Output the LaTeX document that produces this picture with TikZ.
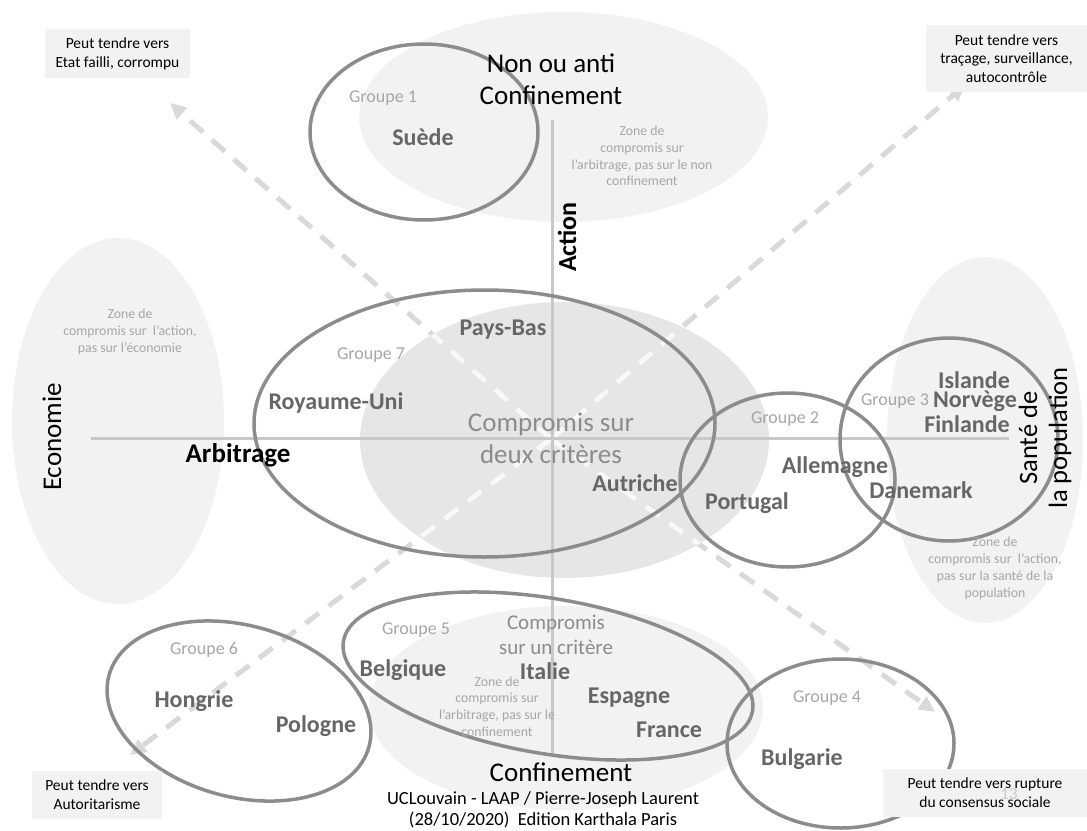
\documentclass[tikz,border=0pt]{standalone}
\usepackage{fontspec}
\setmainfont{Carlito}
\usetikzlibrary{arrows.meta}
\definecolor{zonegrey}{HTML}{F2F2F2}
\definecolor{coregrey}{HTML}{E6E6E6}
\definecolor{axisgrey}{HTML}{C8C8C8}
\definecolor{dashgrey}{HTML}{D9D9D9}
\definecolor{ringgrey}{HTML}{8C8C8C}
\definecolor{landgrey}{HTML}{666666}
\definecolor{softgrey}{HTML}{A6A6A6}
\begin{document}
\begin{tikzpicture}[x=1pt,y=-1pt,
    zone/.style={fill=zonegrey},
    axis/.style={draw=axisgrey,line width=3pt},
    tend/.style={draw=dashgrey,line width=5pt,dash pattern=on 17pt off 12pt,
      -{Triangle[length=16pt,width=15pt]}},
    ring/.style={draw=ringgrey,line width=3.5pt},
    big/.style={font=\fontsize{27}{32}\selectfont,align=center},
    land/.style={text=landgrey,inner sep=0.5pt,font=\bfseries\fontsize{24}{26}\selectfont},
    grplabel/.style={text=softgrey,inner sep=1pt,font=\fontsize{18}{20}\selectfont},
    zonetxt/.style={text=softgrey,font=\fontsize{13.8}{16.8}\selectfont,align=center},
    tendbox/.style={fill=zonegrey,font=\fontsize{15.5}{18.8}\selectfont,align=center,inner sep=0pt}]
\useasboundingbox (0,0) rectangle (1087,830);

\fill[zone] (563.5,117) ellipse [x radius=204.5pt,y radius=105pt];
\fill[zone] (118,421) ellipse [x radius=106pt,y radius=183pt];
\fill[zone] (985,440) ellipse [x radius=98pt,y radius=183pt];
\fill[zone] (566,708) ellipse [x radius=197pt,y radius=102pt];
\fill[coregrey] (564.5,440) ellipse [x radius=204.5pt,y radius=138pt];

\coordinate (o) at (551,439);
\coordinate (tipNW) at (170,103);
\coordinate (tipNE) at (965,85);
\coordinate (tipSW) at (130,755);
\coordinate (tipSE) at (935,712);
\coordinate (axW) at (91,438);
\coordinate (axE) at (1009,438);
\coordinate (axN) at (552,120);
\coordinate (axS) at (552,755);

\draw[axis] (axW) -- (axE);
\draw[axis] (axN) -- (axS);

\foreach \t in {tipNW,tipNE,tipSW,tipSE}
  \draw[tend] (o) -- (\t);
\begin{scope}
  \clip (564.5,440) ellipse [x radius=204.5pt,y radius=138pt];
  \foreach \t in {tipNW,tipNE,tipSW,tipSE}
    \draw[tend,draw=white!70!coregrey] (o) -- (\t);
  \draw[axis] (axW) -- (axE);
  \draw[axis] (axN) -- (axS);
\end{scope}

\draw[ring] (424,132) ellipse [x radius=114pt,y radius=88pt];
\draw[ring] (484.5,423.5) ellipse [x radius=230.5pt,y radius=133.5pt];
\draw[ring] (787.5,480) ellipse [x radius=107.5pt,y radius=87pt];
\draw[ring] (949,439.5) ellipse [x radius=109pt,y radius=101.5pt];
\draw[ring,rotate around={-9.7:(548,676)}] (548,676) ellipse [x radius=207.5pt,y radius=77.5pt];
\draw[ring,rotate around={-15.4:(239,711)}] (239,711) ellipse [x radius=134.8pt,y radius=85.7pt];
\draw[ring] (840.5,743.5) ellipse [x radius=113.5pt,y radius=84.5pt];

\node[big] (nonanti) at (551,79) {Non ou anti\\Confinement};
\node[big] (conf) at (561,772) {Confinement};
\node[big,rotate=90] (eco) at (52,437) {Economie};
\node[big,rotate=90,font=\fontsize{26.5}{30}\selectfont] (sante) at (1045,438) {Santé de\\la population};
\node[big,rotate=90,font=\bfseries\fontsize{26}{30}\selectfont] (action) at (567,237) {Action};
\node[big,font=\bfseries\fontsize{27}{30}\selectfont] (arbitrage) at (238,455) {Arbitrage};
\node[big,text=ringgrey] (deux) at (551,438) {Compromis sur\\deux critères};
\node[big,text=ringgrey,font=\fontsize{21}{25}\selectfont] (un) at (556,635) {Compromis\\sur un critère};

\node[zonetxt] (zoneN) at (642,156) {Zone de\\compromis sur\\l’arbitrage, pas sur le non\\confinement};
\node[zonetxt] (zoneW) at (130,332) {Zone de\\compromis sur~ l’action,\\pas sur l’économie};
\node[zonetxt] (zoneE) at (995,568.5) {Zone de\\compromis sur~ l’action,\\pas sur la santé de la\\population};
\node[zonetxt] (zoneS) at (497,706.5) {Zone de\\compromis sur\\l’arbitrage, pas sur le\\confinement};

\node[grplabel] (g1) at (383,98) {Groupe 1};
\node[grplabel] (g2) at (785,419) {Groupe 2};
\node[grplabel] (g3) at (895,401) {Groupe 3};
\node[grplabel] (g4) at (827,698) {Groupe 4};
\node[grplabel] (g5) at (416,630) {Groupe 5};
\node[grplabel] (g6) at (204,650) {Groupe 6};
\node[grplabel] (g7) at (371,355) {Groupe 7};

\node[land] (suede) at (423,137) {Suède};
\node[land] (paysbas) at (503,330) {Pays-Bas};
\node[land] (ru) at (336,403) {Royaume-Uni};
\node[land] (autriche) at (635,483) {Autriche};
\node[land] (portugal) at (747,503) {Portugal};
\node[land] (allemagne) at (835,467) {Allemagne};
\node[land] (danemark) at (921,490) {Danemark};
\node[land] (islande) at (974,380) {Islande};
\node[land] (norvege) at (975,401) {Norvège};
\node[land] (finlande) at (967,424) {Finlande};
\node[land] (belgique) at (403,670) {Belgique};
\node[land] (italie) at (545,671) {Italie};
\node[land] (espagne) at (629,698) {Espagne};
\node[land] (france) at (669,730) {France};
\node[land] (hongrie) at (194,701) {Hongrie};
\node[land] (pologne) at (316,726) {Pologne};
\node[land] (bulgarie) at (802,759) {Bulgarie};

\node[tendbox,minimum width=145pt,minimum height=49pt] (boxNW) at (117.5,53.5) {Peut tendre vers\\Etat failli, corrompu};
\node[tendbox,minimum width=161pt,minimum height=67pt] (boxNE) at (1006.5,58.5) {Peut tendre vers\\traçage, surveillance,\\autocontrôle};
\node[tendbox,minimum width=130pt,minimum height=48pt] (boxSW) at (97,795) {Peut tendre vers\\Autoritarisme};
\node[tendbox,minimum width=204pt,minimum height=48pt] (boxSE) at (985,793) {Peut tendre vers rupture\\du consensus sociale};
\node[text=softgrey!60,font=\fontsize{17}{20}\selectfont] (page) at (1009,794) {13};

\node[font=\fontsize{18.5}{21}\selectfont,align=center] (credit) at (543,809.5) {UCLouvain - LAAP / Pierre-Joseph Laurent\\(28/10/2020)~ Edition Karthala Paris};
\end{tikzpicture}
\end{document}
